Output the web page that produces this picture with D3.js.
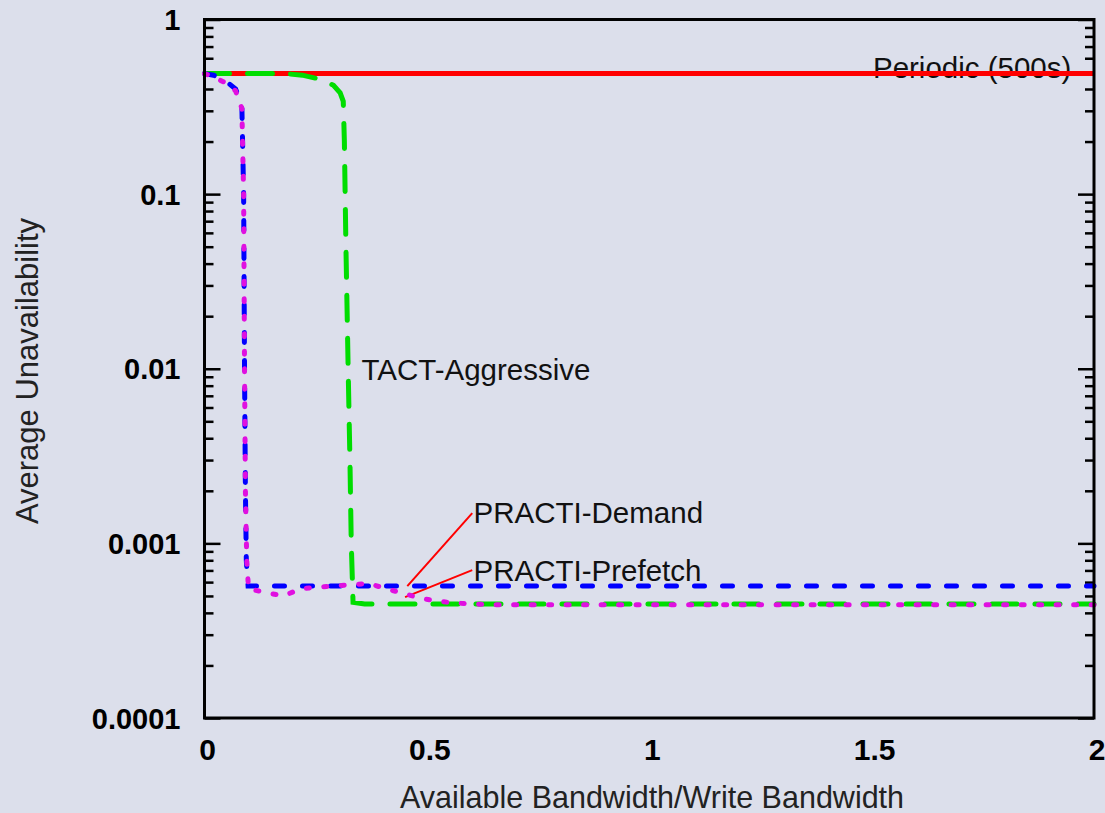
<!DOCTYPE html>
<html>
<head>
<meta charset="utf-8">
<script src="https://cdn.jsdelivr.net/npm/d3@7"></script>
<style>
  body { margin: 0; background: #dcdfeb; }
  svg { display: block; font-family: "Liberation Sans", Arial, sans-serif; }
</style>
</head>
<body>
<div id="chart"></div>
<script>
// data
var periodicX = [0, 2];
var periodicY = [0.49, 0.49];

var tactX = [0, 0.18, 0.22, 0.26, 0.29, 0.305, 0.312, 0.3145, 0.318, 0.323, 0.327, 0.330, 0.334, 0.36, 2];
var tactY = [0.49, 0.49, 0.48, 0.455, 0.42, 0.38, 0.34, 0.2, 0.05, 0.01, 0.003, 0.001, 0.00046, 0.00045, 0.00045];

var demandX = [0, 0.02, 0.05, 0.07, 0.084, 0.088, 0.09, 0.092, 0.094, 0.098, 2];
var demandY = [0.49, 0.48, 0.44, 0.40, 0.32, 0.1, 0.01, 0.002, 0.0008, 0.00057, 0.00057];

var prefetchX = [0, 0.02, 0.05, 0.07, 0.084, 0.088, 0.09, 0.092, 0.095, 0.099, 0.142, 0.178, 0.216, 0.25, 0.33, 0.37, 0.407, 0.445, 0.485, 0.524, 0.564, 0.643, 2];
var prefetchY = [0.49, 0.47, 0.43, 0.39, 0.31, 0.1, 0.01, 0.002, 0.0008, 0.00055, 0.00052, 0.0005, 0.00055, 0.00056, 0.00058, 0.00059, 0.00055, 0.00052, 0.000485, 0.000467, 0.000455, 0.000445, 0.000445];

var xTicks = [0, 0.5, 1, 1.5, 2];
var xTickLabels = ["0", "0.5", "1", "1.5", "2"];
var yTicks = [1, 0.1, 0.01, 0.001, 0.0001];
var yTickLabels = ["1", "0.1", "0.01", "0.001", "0.0001"];

var width = 1105, height = 813;
var plotLeft = 204.5, plotRight = 1094, plotTop = 19.5, plotBottom = 718;

var svg = d3.select("#chart").append("svg")
    .attr("width", width)
    .attr("height", height);

svg.append("rect")
    .attr("width", width)
    .attr("height", height)
    .attr("fill", "#dcdfeb");

var x = d3.scaleLinear().domain([0, 2]).range([plotLeft, plotRight]);
var y = d3.scaleLog().domain([0.0001, 1]).range([plotBottom, plotTop]);

function zip(xs, ys) {
    return xs.map(function(d, i) { return [d, ys[i]]; });
}

var line = d3.line()
    .x(function(d) { return x(d[0]); })
    .y(function(d) { return y(d[1]); });

// minor ticks 2..9 per decade
var minor = [];
[0.0001, 0.001, 0.01, 0.1].forEach(function(base) {
    for (var k = 2; k <= 9; k++) minor.push(base * k);
});

function tickGroup(pos, axisFn, values, size) {
    svg.append("g")
        .attr("transform", "translate(" + pos + ",0)")
        .call(axisFn(y).tickValues(values).tickSize(size).tickFormat(""))
        .call(function(g) { g.select(".domain").remove(); })
        .selectAll("line").attr("stroke", "black").attr("stroke-width", 2.5);
}

// left and right axes, ticks pointing inside
tickGroup(plotLeft, d3.axisRight, yTicks, 16);
tickGroup(plotLeft, d3.axisRight, minor, 9);
tickGroup(plotRight, d3.axisLeft, yTicks, 16);
tickGroup(plotRight, d3.axisLeft, minor, 9);

// y tick labels
svg.selectAll(".ylab")
    .data(yTicks)
    .enter()
    .append("text")
    .attr("class", "ylab")
    .attr("x", plotLeft - 24)
    .attr("y", function(d) { return y(d) + 10.5; })
    .attr("text-anchor", "end")
    .style("font-size", "29px")
    .style("font-weight", "bold")
    .style("fill", "black")
    .text(function(d, i) { return yTickLabels[i]; });

// x tick labels
svg.selectAll(".xlab")
    .data(xTicks)
    .enter()
    .append("text")
    .attr("class", "xlab")
    .attr("x", function(d) { return x(d) + 3; })
    .attr("y", 760)
    .attr("text-anchor", "middle")
    .style("font-size", "30px")
    .style("font-weight", "bold")
    .style("fill", "black")
    .text(function(d, i) { return xTickLabels[i]; });

// axis titles
svg.append("text")
    .attr("x", 652)
    .attr("y", 808)
    .attr("text-anchor", "middle")
    .style("font-size", "30.5px")
    .style("fill", "#222")
    .text("Available Bandwidth/Write Bandwidth");

svg.append("text")
    .attr("transform", "rotate(-90)")
    .attr("x", -371)
    .attr("y", 38)
    .attr("text-anchor", "middle")
    .style("font-size", "31px")
    .style("fill", "#222")
    .text("Average Unavailability");

// annotations (drawn under the lines, the red line crosses the Periodic label)
var notes = [
    { text: "Periodic (500s)", x: 1.503, y: 0.465 },
    { text: "TACT-Aggressive", x: 0.353, y: 0.0086 },
    { text: "PRACTI-Demand", x: 0.605, y: 0.0013 },
    { text: "PRACTI-Prefetch", x: 0.605, y: 0.000608 }
];
svg.selectAll(".note")
    .data(notes)
    .enter()
    .append("text")
    .attr("class", "note")
    .attr("x", function(d) { return x(d.x); })
    .attr("y", function(d) { return y(d.y); })
    .style("font-size", "29.5px")
    .style("fill", "#111")
    .text(function(d) { return d.text; });

// leader lines
var leaders = [
    [[0.602, 0.00149], [0.456, 0.000569]],
    [[0.602, 0.000703], [0.451, 0.000492]]
];
svg.selectAll(".leader")
    .data(leaders)
    .enter()
    .append("path")
    .attr("class", "leader")
    .attr("d", line)
    .attr("fill", "none")
    .attr("stroke", "#ff0000")
    .attr("stroke-width", 2);

// series
svg.append("path")
    .datum(zip(periodicX, periodicY))
    .attr("d", line)
    .attr("fill", "none")
    .attr("stroke", "#ff0000")
    .attr("stroke-width", 5);

svg.append("path")
    .datum(zip(tactX, tactY))
    .attr("d", line)
    .attr("fill", "none")
    .attr("stroke", "#00dd00")
    .attr("stroke-width", 5)
    .attr("stroke-linecap", "round")
    .attr("stroke-dasharray", "25,18");

svg.append("path")
    .datum(zip(demandX, demandY))
    .attr("d", line)
    .attr("fill", "none")
    .attr("stroke", "#0000ff")
    .attr("stroke-width", 5)
    .attr("stroke-linecap", "round")
    .attr("stroke-dasharray", "10,18");

svg.append("path")
    .datum(zip(prefetchX, prefetchY))
    .attr("d", line)
    .attr("fill", "none")
    .attr("stroke", "#e010e0")
    .attr("stroke-width", 5)
    .attr("stroke-linecap", "round")
    .attr("stroke-dasharray", "3,14.5");

// frame
svg.append("rect")
    .attr("x", plotLeft)
    .attr("y", plotTop)
    .attr("width", plotRight - plotLeft)
    .attr("height", plotBottom - plotTop)
    .attr("fill", "none")
    .attr("stroke", "black")
    .attr("stroke-width", 3);
</script>
</body>
</html>
